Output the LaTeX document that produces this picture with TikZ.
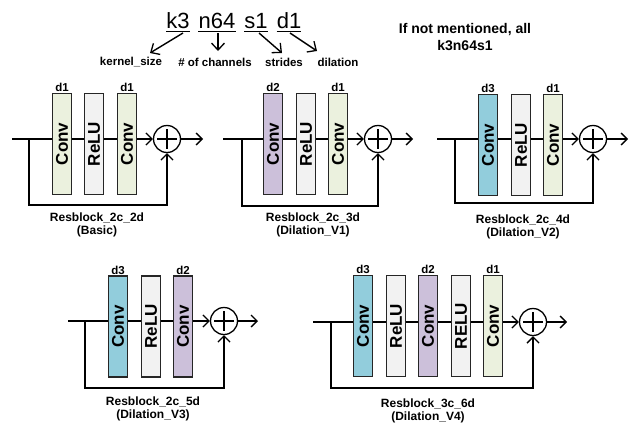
\documentclass[tikz,border=0pt]{standalone}
\usepackage{fontspec}
\setmainfont{Liberation Sans}
\usetikzlibrary{arrows.meta,backgrounds}
\definecolor{cg}{HTML}{EBF1DE}
\definecolor{cp}{HTML}{CCC0DA}
\definecolor{ct}{HTML}{92CDDC}
\definecolor{cr}{HTML}{F2F2F2}
\definecolor{bd}{HTML}{262626}
\tikzset{
  box/.style={draw=bd, line width=1.2pt, rotate=90, minimum width=101pt, minimum height=19pt, inner sep=0pt,
    font=\bfseries\fontsize{17}{17}\selectfont},
  convg/.style={box, fill=cg},
  convp/.style={box, fill=cp},
  convt/.style={box, fill=ct},
  relubox/.style={box, fill=cr},
  sumnode/.style={circle, draw=black, line width=1.3pt, fill=white, minimum size=27pt, inner sep=0pt,
    path picture={\draw[line width=1.4pt] (path picture bounding box.center) ++(-10,0) -- ++(20,0);
                  \draw[line width=1.4pt] (path picture bounding box.center) ++(0,-10) -- ++(0,20);}},
  wire/.style={line width=1.6pt, draw=black},
  tip/.style={-{Straight Barb[length=6pt,width=12pt,line width=1.3pt]}},
  dlab/.style={font=\bfseries\fontsize{11.5}{12}\selectfont, inner sep=0pt},
  title/.style={font=\bfseries\fontsize{12}{13}\selectfont, align=center, inner sep=0pt},
  hdr/.style={font=\fontsize{22}{22}\selectfont, inner sep=0pt, anchor=base},
  hlab/.style={font=\bfseries\fontsize{11.5}{12}\selectfont, inner sep=0pt},
  harrow/.style={line width=1.4pt, -{Straight Barb[length=7pt,width=13pt,line width=1.3pt]}},
}
\begin{document}
\begin{tikzpicture}[x=1pt,y=-1pt]
\useasboundingbox (0,0) rectangle (634,423);

% ---------- header ----------
\node[hdr] (k3) at (178,28) {k3};
\node[hdr] (n64) at (217,28) {n64};
\node[hdr] (s1) at (256,28) {s1};
\node[hdr] (d1h) at (289,28) {d1};
\foreach \n in {k3,n64,s1,d1h}{
  \draw[line width=1.4pt] ([yshift=-3.5pt]\n.base west) -- ([yshift=-3.5pt]\n.base east);
}
\node[hlab] (ks) at (131,62) {kernel\_size};
\node[hlab] (nc) at (215,62) {\# of channels};
\node[hlab] (st) at (284,62) {strides};
\node[hlab] (dl) at (338,62) {dilation};
\coordinate (k3s) at (183,33);
\coordinate (n64s) at (218,33);
\coordinate (s1s) at (259,33);
\coordinate (d1s) at (290,33);
\coordinate (kse) at (150,53);
\coordinate (nce) at (218,51);
\coordinate (ste) at (282,53);
\coordinate (dle) at (317,51);
\draw[harrow] (k3s) -- (kse);
\draw[harrow] (n64s) -- (nce);
\draw[harrow] (s1s) -- (ste);
\draw[harrow] (d1s) -- (dle);

\node[font=\bfseries\fontsize{14}{17}\selectfont, align=center, inner sep=0pt] (note) at (465,37)
  {If not mentioned, all\\k3n64s1};

% ---------- block 1 ----------
\node[convg] (a1) at (62,144) {Conv};
\node[relubox] (a2) at (94,144) {ReLU};
\node[convg] (a3) at (127,144) {Conv};
\node[sumnode] (as) at (167,139) {};
\coordinate (ain) at (12,139);
\coordinate (asp) at (29,139);
\coordinate (abot) at (29,205);
\coordinate (aout) at (203,139);
\node[dlab] (ad1) at (62,87) {d1};
\node[dlab] (ad3) at (127,87) {d1};
\node[title] (at) at (97,225) {Resblock\_2c\_2d\\(Basic)};
\begin{scope}[on background layer]
\draw[wire,tip] (ain) -- (as);
\end{scope}
\draw[wire,tip] (asp) -- (abot) -| (as.south);
\draw[wire,tip] (as) -- (aout);

% ---------- block 2 ----------
\node[convp] (b1) at (273,144) {Conv};
\node[relubox] (b2) at (306,144) {ReLU};
\node[convg] (b3) at (338,144) {Conv};
\node[sumnode] (bs) at (378,139) {};
\coordinate (bin) at (223,139);
\coordinate (bsp) at (242,139);
\coordinate (bbot) at (242,206);
\coordinate (bout) at (413,139);
\node[dlab] (bd1) at (273,87) {d2};
\node[dlab] (bd3) at (338,87) {d1};
\node[title] (bt) at (313,225) {Resblock\_2c\_3d\\(Dilation\_V1)};
\begin{scope}[on background layer]
\draw[wire,tip] (bin) -- (bs);
\end{scope}
\draw[wire,tip] (bsp) -- (bbot) -| (bs.south);
\draw[wire,tip] (bs) -- (bout);

% ---------- block 3 ----------
\node[convt] (c1) at (488,145) {Conv};
\node[relubox] (c2) at (521,145) {ReLU};
\node[convg] (c3) at (553,145) {Conv};
\node[sumnode] (cs) at (593,139) {};
\coordinate (cin) at (437,139);
\coordinate (csp) at (455,139);
\coordinate (cbot) at (455,203);
\coordinate (cout) at (628,139);
\node[dlab] (cd1) at (488,88) {d3};
\node[dlab] (cd3) at (553,88) {d1};
\node[title] (ct) at (523,227) {Resblock\_2c\_4d\\(Dilation\_V2)};
\begin{scope}[on background layer]
\draw[wire,tip] (cin) -- (cs);
\end{scope}
\draw[wire,tip] (csp) -- (cbot) -| (cs.south);
\draw[wire,tip] (cs) -- (cout);

% ---------- block 4 ----------
\node[convt] (e1) at (118,326.5) {Conv};
\node[relubox] (e2) at (151,326.5) {ReLU};
\node[convp] (e3) at (183,326.5) {Conv};
\node[sumnode] (es) at (224,321) {};
\coordinate (ein) at (68,321);
\coordinate (esp) at (85,321);
\coordinate (ebot) at (85,388);
\coordinate (eout) at (258,321);
\node[dlab] (ed1) at (118,270) {d3};
\node[dlab] (ed3) at (183,270) {d2};
\node[title] (et) at (153,409) {Resblock\_2c\_5d\\(Dilation\_V3)};
\begin{scope}[on background layer]
\draw[wire,tip] (ein) -- (es);
\end{scope}
\draw[wire,tip] (esp) -- (ebot) -| (es.south);
\draw[wire,tip] (es) -- (eout);

% ---------- block 5 ----------
\node[convt] (f1) at (363,326) {Conv};
\node[relubox] (f2) at (396,326) {ReLU};
\node[convp] (f3) at (428,326) {Conv};
\node[relubox] (f4) at (461,326) {RELU};
\node[convg] (f5) at (493,326) {Conv};
\node[sumnode] (fs) at (533,322) {};
\coordinate (fin) at (313,322);
\coordinate (fsp) at (331,322);
\coordinate (fbot) at (331,388);
\coordinate (fout) at (567,322);
\node[dlab] (fd1) at (363,269) {d3};
\node[dlab] (fd3) at (428,269) {d2};
\node[dlab] (fd5) at (493,269) {d1};
\node[title] (ft) at (428,411) {Resblock\_3c\_6d\\(Dilation\_V4)};
\begin{scope}[on background layer]
\draw[wire,tip] (fin) -- (fs);
\end{scope}
\draw[wire,tip] (fsp) -- (fbot) -| (fs.south);
\draw[wire,tip] (fs) -- (fout);
\end{tikzpicture}
\end{document}
